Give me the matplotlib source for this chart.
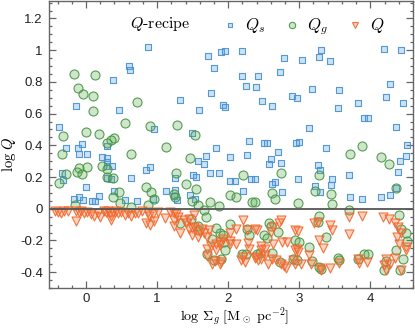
import matplotlib
matplotlib.use("Agg")
import matplotlib.pyplot as plt
from matplotlib.lines import Line2D
from matplotlib.ticker import FixedLocator, MultipleLocator

plt.rcParams.update({
    "mathtext.fontset": "cm",
    "axes.unicode_minus": False,
    "font.family": "Liberation Sans",
})

# ── data ─────────────────────────────────────────────────────────────────────
qs_x = [0.607, 0.624, 0.374, -0.140, 0.459, 0.874, 1.711, 1.903, 1.959, 2.198,
        1.795, 2.198, 2.422, 2.254, 2.398, 1.763, 1.318, 1.926, 1.950, 2.482,
        1.585, 3.306, 2.791, 3.034, 3.282, 3.436, 4.194, 4.428, 2.731, 4.278,
        3.174, 3.553, 2.619, 2.899, 2.973, 3.548, 3.825, 4.217, 4.460, -0.374,
        -0.281, -0.112, -0.056, -0.102, 0.010, 0.290, 0.299, 0.220, 0.299, 0.299,
        0.365, -0.337, -0.318, 0.000, 0.299, 0.346, 0.631, -0.168, -0.105, -0.046,
        0.091, 0.129, 0.178, 0.388, 0.551, 0.722, 1.122, 1.244, 0.954, 1.487,
        2.300, 2.511, 2.553, 1.823, 1.683, 2.029, 2.268, 1.575, 1.655, 2.571,
        0.907, 0.851, 1.248, 1.501, 1.553, 1.749, 1.870, 2.020, 2.094, 2.328,
        2.384, 1.258, 1.459, 1.529, 2.206, 0.940, 1.286, 3.913, 3.965, 3.142,
        4.358, 2.955, 2.997, 3.376, 4.512, 2.707, 4.498, 2.599, 2.749, 3.264,
        3.286, 4.414, 4.394, 3.703, 2.665, 2.983, 3.460, 3.450, 3.216, 2.753,
        3.286, 3.712, 3.885, 4.151, 4.273, 2.619, 4.366]
qs_y = [0.901, 0.876, 0.811, 0.649, 0.625, 1.021, 0.964, 0.989, 0.996, 0.996,
        0.888, 0.838, 0.836, 0.775, 0.768, 0.727, 0.686, 0.657, 0.640, 0.680,
        0.623, 1.004, 0.951, 0.939, 0.954, 0.931, 1.006, 1.002, 0.863, 0.787,
        0.758, 0.748, 0.649, 0.708, 0.699, 0.638, 0.668, 0.705, 0.668, 0.516,
        0.380, 0.384, 0.411, 0.348, 0.346, 0.396, 0.321, 0.327, 0.293, 0.268,
        0.268, 0.226, 0.180, 0.134, 0.194, 0.188, 0.194, 0.062, 0.071, 0.052,
        0.050, 0.050, 0.081, 0.112, 0.058, 0.050, 0.112, 0.079, 0.502, 0.478,
        0.428, 0.413, 0.413, 0.386, 0.333, 0.327, 0.338, 0.300, 0.279, 0.283,
        0.264, 0.243, 0.194, 0.211, 0.197, 0.226, 0.224, 0.172, 0.175, 0.188,
        0.188, 0.117, 0.087, 0.062, 0.112, 0.062, 0.054, 0.575, 0.569, 0.510,
        0.516, 0.415, 0.421, 0.380, 0.403, 0.358, 0.333, 0.314, 0.289, 0.276,
        0.243, 0.302, 0.232, 0.213, 0.170, 0.186, 0.188, 0.150, 0.146, 0.104,
        0.106, 0.074, 0.064, 0.074, 0.085, 0.153, 0.132]

qg_x = [-0.168, 0.130, -0.108, -0.042, 0.094, 0.719, 0.094, 0.551, -0.327, 0.000,
        0.178, 0.393, 0.351, 0.302, -0.337, 0.627, -0.102, 0.018, -0.122, -0.056,
        -0.281, -0.383, 0.224, 0.290, 0.290, 0.374, 0.459, 0.374, 0.477, 0.627,
        -0.150, 0.851, 0.912, 0.954, 0.870, 0.907, 1.286, 1.533, 1.122, 1.463,
        1.262, 1.412, 2.206, 1.244, 1.252, 1.553, 1.487, 1.575, 1.749, 1.870,
        2.020, 2.104, 2.338, 2.384, 2.619, 2.665, 2.983, 3.881, 3.712, 4.151,
        4.268, 2.749, 3.282, 3.216, 3.450, 3.464, 3.703, 4.366, 1.655, 1.683,
        1.318, 1.477, 1.581, 1.575, 1.823, 1.767, 1.879, 1.926, 2.020, 2.262,
        2.300, 2.571, 2.604, 2.703, 2.506, 2.543, 1.935, 1.954, 1.701, 1.795,
        1.903, 2.198, 2.244, 2.403, 2.454, 2.619, 2.907, 2.945, 2.973, 2.731,
        2.994, 3.142, 3.282, 3.264, 3.376, 3.282, 3.310, 3.544, 3.553, 3.822,
        3.909, 3.973, 4.217, 4.189, 4.358, 4.397, 4.432, 4.498, 4.520, 4.463,
        4.418, 3.180]
qg_y = [0.849, 0.842, 0.760, 0.721, 0.712, 0.672, 0.615, 0.541, 0.457, 0.485,
        0.474, 0.449, 0.432, 0.416, 0.348, 0.348, 0.254, 0.264, 0.232, 0.216,
        0.222, 0.163, 0.268, 0.251, 0.201, 0.191, 0.106, 0.071, 0.033, 0.009,
        0.022, 0.136, 0.107, 0.060, 0.022, 0.522, 0.527, 0.464, 0.390, 0.317,
        0.226, 0.159, 0.213, 0.092, 0.073, 0.125, 0.050, 0.022, 0.041, 0.016,
        0.087, 0.071, 0.043, 0.043, 0.100, 0.064, 0.037, 0.396, 0.348, 0.327,
        0.283, 0.224, 0.211, 0.110, 0.095, 0.032, -0.006, 0.129, -0.009, -0.050,
        -0.090, -0.066, -0.110, -0.136, -0.119, -0.194, -0.156, -0.167, -0.098, -0.125,
        -0.163, -0.088, -0.110, -0.146, -0.163, -0.184, -0.213, -0.262, -0.283, -0.325,
        -0.314, -0.283, -0.283, -0.283, -0.279, -0.279, -0.314, -0.199, -0.322, -0.336,
        -0.213, -0.241, -0.047, -0.082, -0.178, -0.369, -0.379, -0.309, -0.325, -0.314,
        -0.283, -0.283, -0.327, -0.385, -0.262, -0.041, -0.125, -0.153, -0.202, -0.320,
        -0.384, -0.331]

q_x = [-0.435, -0.393, -0.351, -0.302, -0.252, -0.147, -0.102, -0.066, -0.028, 0.018,
       0.066, 0.112, 0.168, 0.192, 0.252, 0.285, 0.309, 0.337, 0.355, 0.383,
       0.421, 0.449, 0.487, 0.551, 0.589, 0.635, 0.683, 0.729, 0.785, 0.870,
       0.884, 0.944, 1.010, 1.112, 1.178, 1.244, 1.272, 1.300, -0.144, 0.355,
       0.842, 0.907, 0.954, 1.244, 1.234,
       1.318, 1.384, 1.449, 1.525, 1.403, 1.487, 1.496, 1.571, 1.599, 1.665,
       1.729, 1.757, 1.823, 1.879, 1.926, 2.029, 2.104, 2.206, 2.262, 2.403,
       2.282, 2.300, 1.701, 1.777, 1.903, 2.178, 2.234, 2.384, 2.422, 2.468,
       2.525, 2.637, 2.721, 2.749, 2.823, 2.945, 2.973, 2.791, 2.815, 2.675,
       2.563, 1.449, 1.519, 1.637, 1.701, 1.701, 1.823, 1.879, 2.020, 2.020,
       2.114, 2.206, 1.809, 1.879, 2.384, 2.394, 2.464, 2.464, 2.525,
       2.604, 2.627, 2.759, 2.619, 2.739, 2.983, 3.029, 3.166, 3.207, 3.264,
       3.273, 3.338, 3.142, 3.292, 3.432, 3.460, 3.432, 3.562, 3.703, 3.703,
       3.881, 3.825, 3.955, 4.179, 4.264, 4.348, 4.394, 4.380, 4.404, 4.498,
       4.348, 4.217, 4.198, 4.428, 4.273, 4.428, 2.945, 2.987, 2.907, 2.945,
       3.310, 3.834, 4.217, 4.508]
q_y = [-0.013, -0.019, -0.028, -0.014, -0.013, -0.014, -0.022, -0.014, -0.030, -0.020,
       -0.035, -0.047, -0.030, -0.050, -0.014, -0.022, -0.014, -0.028, -0.047, -0.022,
       -0.016, -0.030, -0.022, -0.041, -0.030, -0.047, -0.030, -0.030, -0.016, -0.020,
       -0.047, -0.035, -0.022, -0.056, -0.022, -0.030, -0.035, -0.052, -0.076, -0.073,
       -0.093, -0.104, -0.077, -0.073, -0.110,
       -0.156, -0.068, -0.062, -0.041, -0.090, -0.119, -0.163, -0.178, -0.146, -0.153,
       -0.136, -0.237, -0.220, -0.209, -0.194, -0.205, -0.125, -0.073, -0.136, -0.136,
       -0.216, -0.251, -0.300, -0.350, -0.336, -0.325, -0.336, -0.308, -0.325, -0.237,
       -0.256, -0.115, -0.090, -0.068, -0.209, -0.136, -0.251, -0.363, -0.377, -0.325,
       -0.346, -0.125, -0.115, -0.125, -0.178, -0.251, -0.262, -0.230, -0.156, -0.220,
       -0.220, -0.304, -0.329, -0.346, -0.131, -0.304, -0.262, -0.314, -0.293,
       -0.146, -0.220, -0.207, -0.314, -0.346, -0.140, -0.350, -0.350, -0.093, -0.083,
       -0.199, -0.245, -0.293, -0.377, -0.104, -0.136, -0.377, -0.342, -0.161, -0.052,
       -0.047, -0.317, -0.336, -0.052, -0.062, -0.090, -0.115, -0.178, -0.220, -0.241,
       -0.308, -0.384, -0.356, -0.156, -0.346, -0.388, -0.262, -0.273, -0.325, -0.346,
       -0.384, -0.342, -0.314, -0.262]

x_ticks = [0, 1, 2, 3, 4]
y_ticks = [-0.4, -0.2, 0, 0.2, 0.4, 0.6, 0.8, 1, 1.2]
y_ticklabels = ["-0.4", "-0.2", "0", "0.2", "0.4", "0.6", "0.8", "1", "1.2"]

# ── style ────────────────────────────────────────────────────────────────────
BLUE_E, BLUE_F = (0.29, 0.58, 0.84, 0.95), (0.36, 0.62, 0.86, 0.30)
GREEN_E, GREEN_F = (0.27, 0.58, 0.26, 0.90), (0.38, 0.68, 0.35, 0.30)
RED_E, RED_F = (0.95, 0.40, 0.17, 0.90), (0.97, 0.50, 0.30, 0.35)

fig = plt.figure(figsize=(4.15, 3.28), dpi=100)
ax = fig.add_axes([49 / 415, 40 / 328, 364 / 415, 287 / 328])

ax.scatter(qs_x, qs_y, marker="s", s=17, facecolor=BLUE_F, edgecolor=BLUE_E,
           linewidth=0.8, zorder=2)
ax.scatter(qg_x, qg_y, marker="o", s=42, facecolor=GREEN_F, edgecolor=GREEN_E,
           linewidth=0.8, zorder=2)
ax.scatter(q_x, q_y, marker="v", s=42, facecolor=RED_F, edgecolor=RED_E,
           linewidth=0.8, zorder=2)
ax.axhline(0, color="#555555", linewidth=1.3, zorder=4)

ax.set_xlim(-0.52, 4.6)
ax.set_ylim(-0.5, 1.31)
ax.xaxis.set_major_locator(FixedLocator(x_ticks))
ax.xaxis.set_minor_locator(MultipleLocator(0.2))
ax.yaxis.set_major_locator(FixedLocator(y_ticks))
ax.set_yticklabels(y_ticklabels)
ax.yaxis.set_minor_locator(MultipleLocator(0.05))
ax.tick_params(which="both", direction="in", top=True, right=True,
               color="#666666", width=0.9, labelsize=9.5, labelcolor="#222222")
ax.tick_params(which="major", length=5, pad=4.5)
ax.tick_params(axis="x", which="major", pad=3.3)
ax.tick_params(which="minor", length=2.5)
for sp in ax.spines.values():
    sp.set_color("#666666")
    sp.set_linewidth(1.0)

ax.set_xlabel(r"$\log\,\Sigma_g\ [\mathrm{M}_\odot\ \mathrm{pc}^{-2}]$", fontsize=10.2)
ax.set_ylabel(r"$\log\,Q$", fontsize=10.5)
ax.xaxis.set_label_coords(0.51, -0.061)
ax.yaxis.set_label_coords(-0.084, 0.467)

ax.text(0.222, 0.92, r"$Q$-recipe", transform=ax.transAxes, fontsize=11.5,
        family="cmr10", va="center", ha="left")
handles = [
    Line2D([], [], ls="none", marker="s", ms=3.5, mfc=BLUE_F, mec=BLUE_E, mew=0.8, label=r"$Q_s$"),
    Line2D([], [], ls="none", marker="o", ms=4.6, mfc=GREEN_F, mec=GREEN_E, mew=0.8, label=r"$Q_g$"),
    Line2D([], [], ls="none", marker="v", ms=5.0, mfc=RED_F, mec=RED_E, mew=0.8, label=r"$Q$"),
]
ax.legend(handles=handles, loc="center left", bbox_to_anchor=(0.448, 0.91), ncol=3,
          frameon=False, fontsize=12, handlelength=0.8, handletextpad=0.5,
          columnspacing=1.2, borderpad=0.2)

fig.savefig("out.png", dpi=100)
